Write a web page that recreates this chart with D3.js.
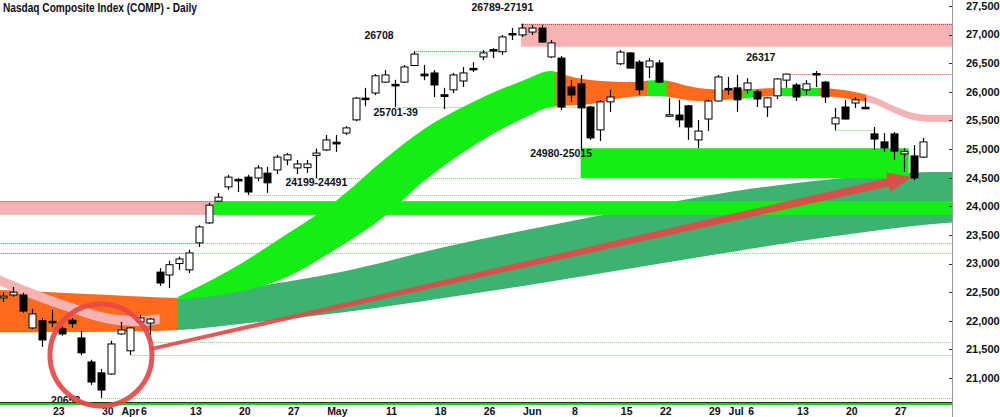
<!DOCTYPE html>
<html>
<head>
<meta charset="utf-8">
<script src="https://cdn.jsdelivr.net/npm/d3@7"></script>
<style>
  body { margin: 0; background: #fff; }
  svg text { font-family: "Liberation Sans", Arial, sans-serif; font-weight: bold; fill: #111; }
</style>
</head>
<body>
<div id="chart"></div>
<script>
const width = 1000, height = 417, plotRight = 952, plotBottom = 402;

// daily candles, [open, high, low, close]; first row is trading day -5 (Mar 16), day 0 = Mar 23
const firstDay = -5;
const ohlc = [
  [22400, 22500, 22330, 22430], [22450, 22590, 22420, 22500], [22450, 22490, 22140, 22170],
  [21875, 22210, 21860, 22120], [22000, 22050, 21545, 21665], [21990, 22190, 21890, 21970],
  [21860, 21900, 21740, 21770], [22010, 22050, 21880, 21950], [21700, 21820, 21400, 21440],
  [21280, 21320, 20880, 20930], [21090, 21160, 20653, 20790], [21070, 21650, 21055, 21595],
  [21770, 21980, 21755, 21840], [21475, 21890, 21400, 21875], [21980, 22100, 21945, 22050],
  [21960, 22050, 21630, 22030], [22850, 22920, 22610, 22660], [22800, 23050, 22570, 22980],
  [23000, 23120, 22890, 23080], [22890, 23240, 22835, 23185], [23360, 23670, 23290, 23640],
  [23710, 24060, 23690, 24020], [24090, 24230, 24075, 24160], [24340, 24550, 24290, 24510],
  [24470, 24495, 24250, 24450], [24510, 24550, 24199, 24250], [24495, 24720, 24440, 24670],
  [24580, 24690, 24235, 24410], [24635, 24900, 24565, 24860], [24810, 24930, 24720, 24900],
  [24670, 24810, 24565, 24740], [24675, 24810, 24585, 24740], [24890, 25010, 24491, 24930],
  [24985, 25245, 24965, 25160], [25120, 25245, 24950, 25090], [25280, 25400, 25245, 25370],
  [25510, 25910, 25490, 25890], [25890, 26070, 25750, 25870], [25980, 26310, 25945, 26280],
  [26170, 26380, 26155, 26295], [26130, 26210, 25739, 26110], [26170, 26470, 26155, 26435],
  [26460, 26708, 26450, 26660], [26310, 26470, 26205, 26280], [26330, 26380, 25910, 26120],
  [25950, 26070, 25701, 25920], [26035, 26330, 25980, 26295], [26190, 26435, 26085, 26330],
  [26410, 26520, 26345, 26390], [26610, 26730, 26555, 26680], [26740, 26765, 26590, 26720],
  [26700, 26995, 26645, 26960], [27020, 27115, 26905, 27000], [26995, 27191, 26960, 27115],
  [27045, 27170, 26995, 27115], [27115, 27170, 26855, 26870], [26610, 26905, 26590, 26855],
  [26590, 26625, 25685, 25735], [26085, 26205, 25825, 25945], [26140, 26295, 24980, 25720],
  [25735, 25755, 25160, 25195], [25335, 25860, 25140, 25825], [25825, 26035, 25650, 25910],
  [26490, 26730, 26470, 26695], [26680, 26695, 26410, 26415], [26520, 26555, 25945, 26035],
  [26435, 26590, 26240, 26540], [26505, 26555, 26155, 26170], [25580, 25895, 25560, 25600],
  [25595, 25860, 25385, 25510], [25755, 25770, 25160, 25385], [25160, 25510, 25015, 25315],
  [25525, 25860, 25315, 25840], [25840, 26295, 25830, 26260], [26060, 26260, 25945, 26040],
  [26070, 26295, 25650, 25860], [26035, 26240, 25965, 26155], [26000, 26035, 25735, 25875],
  [25735, 25910, 25560, 25895], [25930, 26240, 25875, 26225], [26205, 26317, 26070, 26310],
  [26120, 26155, 25840, 25910], [26035, 26205, 25945, 26140], [26320, 26365, 26085, 26300],
  [26170, 26190, 25805, 25910], [25440, 25720, 25330, 25545], [25735, 25860, 25520, 25525],
  [25805, 25910, 25720, 25860], [25730, 25895, 25700, 25715], [25265, 25385, 24985, 25175],
  [25125, 25280, 24950, 25020], [25265, 25300, 24810, 24965], [24915, 25015, 24600, 24960],
  [24880, 25070, 24460, 24495], [24860, 25195, 24845, 25125]
];

// long-term ribbon [day, upper, lower] and its colour runs [from, to, colour]
const longRibbon = [
  [-6, 22540, 21800], [0, 22500, 21805], [6, 22450, 21810], [13, 22400, 21840],
  [20, 22575, 21960], [30, 22870, 22155], [40, 23285, 22400], [50, 23640, 22660],
  [60, 23970, 22940], [70, 24270, 23220], [80, 24480, 23480], [90, 24600, 23690], [93, 24600, 23730]
];
const longColors = [[-6, 12.9, "#ff6a1c"], [12.9, 93, "#3cb371"]];

// short-term ribbon
const shortRibbon = [
  [12.9, 22420, 22370], [18, 22870, 22470], [24, 23515, 22766], [29, 24094, 23255],
  [34, 24827, 23832], [38, 25351, 24443], [43, 25823, 25054], [48, 26190, 25526],
  [51, 26365, 25736], [52, 26312, 25753], [55, 26207, 25788], [59, 26172, 25910],
  [62, 26207, 25928], [66, 26068, 25841], [70, 26033, 25875], [74, 26068, 25928],
  [78, 26068, 25928], [82, 25998, 25858], [84, 25910, 25788], [86, 25753, 25631],
  [88, 25631, 25509], [90, 25596, 25474], [93, 25596, 25474]
];
const shortColors = [
  [12.9, 51.4, "#13ef13"], [51.4, 60.8, "#ff6a1c"], [60.8, 62.8, "#13ef13"],
  [62.8, 70.6, "#ff6a1c"], [70.6, 71.8, "#13ef13"], [71.8, 73.9, "#ff6a1c"],
  [73.9, 78.4, "#13ef13"], [78.4, 83.2, "#ff6a1c"], [83.2, 93, "#f5b3b3"]
];
const pinkRibbon = [
  [-6, 22840, 22660], [-2, 22560, 22380], [2, 22310, 22140],
  [6, 22120, 21945], [9, 22085, 21910], [11, 22120, 21945]
];

// price zones [from, to, top, bottom, colour]
const zones = [
  [47.9, 93, 27191, 26789, "#f5b3b3"],
  [-6, 16.5, 24090, 23850, "#f5b3b3"],
  [16.5, 93, 24090, 23850, "#13ef13"],
  [54, 87.5, 25015, 24491, "#13ef13"]
];

// dotted levels [price, from, to, colour]
const levels = [
  [23360, 14.6, 93, "g"], [23185, 13.5, 93, "g"], [25739, 35, 54.5, "g"], [24491, 24, 54, "g"],
  [24199, 20, 93, "g"], [25330, 80, 84, "g"], [21630, 10, 93, "g"], [21403, 8, 93, "g"],
  [20653, 5, 93, "g"],
  [27191, 47.9, 93, "r"], [26708, 37, 46.3, "r"], [26317, 75, 93, "r"], [24090, -6, 16.5, "r"],
  [23360, -6, 14.6, "r"], [23185, -6, 13.5, "r"]
];

// level notes [text, day, price]
const notes = [
  ["26789-27191", 46, 27483], ["26708", 33.4, 26994], ["25701-39", 35.1, 25648],
  ["24199-24491", 27, 24426], ["24980-25015", 52, 24932], ["26317", 72.4, 26609],
  ["20653", 1.4, 20617]
];

// date labels [day, text]
const dateLabels = [
  [0, "23"], [5, "30"], [7, "Apr"], [9, "6"], [14, "13"], [19, "20"], [24, "27"],
  [28, "May"], [34, "11"], [39, "18"], [44, "26"], [48, "Jun"], [53, "8"], [58, "15"],
  [62, "22"], [67, "29"], [69, "Jul"], [71, "6"], [76, "13"], [81, "20"], [86, "27"]
];
const priceTicks = d3.range(21000, 27501, 500);

const x = d3.scaleLinear().domain([0, 86]).range([52, 894]);
const y = d3.scaleLinear().domain([21000, 27500]).range([378, 6]);

const svg = d3.select("#chart")
  .append("svg")
  .attr("width", width)
  .attr("height", height);
const defs = svg.append("defs");
defs.append("clipPath").attr("id", "plotclip")
  .append("rect").attr("x", 0).attr("y", 0).attr("width", plotRight).attr("height", plotBottom);

const plot = svg.append("g").attr("clip-path", "url(#plotclip)");

// dotted support lines sit under the bands
const drawLevels = function (kind) {
  plot.selectAll(null)
    .data(levels.filter(d => d[3] == kind))
    .join("line")
    .attr("x1", d => x(d[1]))
    .attr("x2", d => x(d[2]))
    .attr("y1", d => Math.round(y(d[0])) + 0.5)
    .attr("y2", d => Math.round(y(d[0])) + 0.5)
    .attr("stroke", kind == "g" ? "#6fdc6f" : "#e03a3a")
    .attr("stroke-width", 1)
    .attr("stroke-dasharray", "1,1");
}
drawLevels("g");

const area = d3.area()
  .x(d => x(d[0]))
  .y0(d => y(d[2]))
  .y1(d => y(d[1]))
  .curve(d3.curveMonotoneX);

let clipCount = 0;
function ribbon(points, runs) {
  runs.forEach(r => {
    const id = "seg" + (clipCount++);
    defs.append("clipPath").attr("id", id)
      .append("rect")
      .attr("x", x(r[0]) - 0.3)
      .attr("y", 0)
      .attr("width", x(r[1]) - x(r[0]) + 0.6)
      .attr("height", height);
    plot.append("path")
      .datum(points)
      .attr("clip-path", `url(#${id})`)
      .attr("fill", r[2])
      .attr("d", area);
  });
}

ribbon(longRibbon, longColors);

plot.selectAll(null)
  .data(zones)
  .join("rect")
  .attr("x", d => x(d[0]))
  .attr("width", d => x(d[1]) - x(d[0]))
  .attr("y", d => y(d[2]))
  .attr("height", d => y(d[3]) - y(d[2]))
  .attr("fill", d => d[4]);

ribbon(pinkRibbon, [[-6, 11, "#f5b3b3"]]);
ribbon(shortRibbon, shortColors);

drawLevels("r");

// candles
const bodyW = 7;
const candle = plot.selectAll(".candle")
  .data(ohlc)
  .join("g")
  .attr("class", "candle")
  .attr("transform", (d, i) => `translate(${Math.round(x(i + firstDay)) + 0.5},0)`);

candle.append("line")
  .attr("y1", d => y(d[1]))
  .attr("y2", d => y(d[2]))
  .attr("stroke", "#000")
  .attr("stroke-width", 1.2);

candle.append("rect")
  .attr("x", -bodyW / 2)
  .attr("width", bodyW)
  .attr("y", d => y(Math.max(d[0], d[3])))
  .attr("height", d => Math.max(1.5, Math.abs(y(d[0]) - y(d[3]))))
  .attr("fill", d => d[3] >= d[0] ? "#fff" : "#000")
  .attr("stroke", "#000")
  .attr("stroke-width", 1);

// level notes
plot.selectAll(".note")
  .data(notes)
  .join("text")
  .attr("class", "note")
  .attr("x", d => x(d[1]))
  .attr("y", d => y(d[2]))
  .attr("dy", "0.35em")
  .attr("text-anchor", "middle")
  .style("font-size", "10.5px")
  .text(d => d[0]);

// bottom rule
svg.append("rect")
  .attr("x", 0).attr("y", plotBottom)
  .attr("width", plotRight).attr("height", 3)
  .attr("fill", "#1fcf1f");
svg.append("line")
  .attr("x1", 0).attr("x2", plotRight)
  .attr("y1", plotBottom + 0.5).attr("y2", plotBottom + 0.5)
  .attr("stroke", "#0b3d0b");

// right price axis
svg.append("line")
  .attr("x1", plotRight + 0.5).attr("x2", plotRight + 0.5)
  .attr("y1", 0).attr("y2", height)
  .attr("stroke", "#999");
svg.selectAll(".ptick")
  .data(priceTicks)
  .join("line")
  .attr("class", "ptick")
  .attr("x1", plotRight - 3).attr("x2", plotRight)
  .attr("y1", d => Math.round(y(d)) + 0.5)
  .attr("y2", d => Math.round(y(d)) + 0.5)
  .attr("stroke", "#333");
svg.selectAll(".plabel")
  .data(priceTicks)
  .join("text")
  .attr("class", "plabel")
  .attr("x", 966)
  .attr("y", d => y(d))
  .attr("dy", "0.35em")
  .style("font-size", "11px")
  .text(d => d3.format(",")(d));

// date labels
svg.selectAll(".dlabel")
  .data(dateLabels)
  .join("text")
  .attr("class", "dlabel")
  .attr("x", d => x(d[0]) + 1)
  .attr("y", 411)
  .attr("dy", "0.35em")
  .style("font-size", "10.5px")
  .text(d => d[1]);

// title
svg.append("text")
  .attr("x", 3)
  .attr("y", 12)
  .attr("textLength", 194)
  .attr("lengthAdjust", "spacingAndGlyphs")
  .style("font-size", "12px")
  .text("Nasdaq Composite Index (COMP) - Daily");

// red circle and arrow annotation
const circleAt = [5, 21403], arrowFrom = [10.1, 21508], arrowTo = [87.8, 24513];
svg.append("circle")
  .attr("cx", x(circleAt[0]))
  .attr("cy", y(circleAt[1]))
  .attr("r", 51)
  .attr("fill", "none")
  .attr("stroke", "#e64848")
  .attr("stroke-opacity", 0.92)
  .attr("stroke-width", 5);

const x1 = x(arrowFrom[0]), y1 = y(arrowFrom[1]), x2 = x(arrowTo[0]), y2 = y(arrowTo[1]);
const len = Math.hypot(x2 - x1, y2 - y1);
const ux = (x2 - x1) / len, uy = (y2 - y1) / len, nx = -uy, ny = ux;
const headLen = 24, w0 = 1.8, w1 = 4, wh = 10;
const bx = x2 - ux * headLen, by = y2 - uy * headLen;
const arrowPts = [
  [x1 + nx * w0, y1 + ny * w0], [bx + nx * w1, by + ny * w1], [bx + nx * wh, by + ny * wh],
  [x2, y2],
  [bx - nx * wh, by - ny * wh], [bx - nx * w1, by - ny * w1], [x1 - nx * w0, y1 - ny * w0]
];
svg.append("path")
  .attr("d", d3.line()(arrowPts) + "Z")
  .attr("fill", "#e64848")
  .attr("fill-opacity", 0.92);
</script>
</body>
</html>
